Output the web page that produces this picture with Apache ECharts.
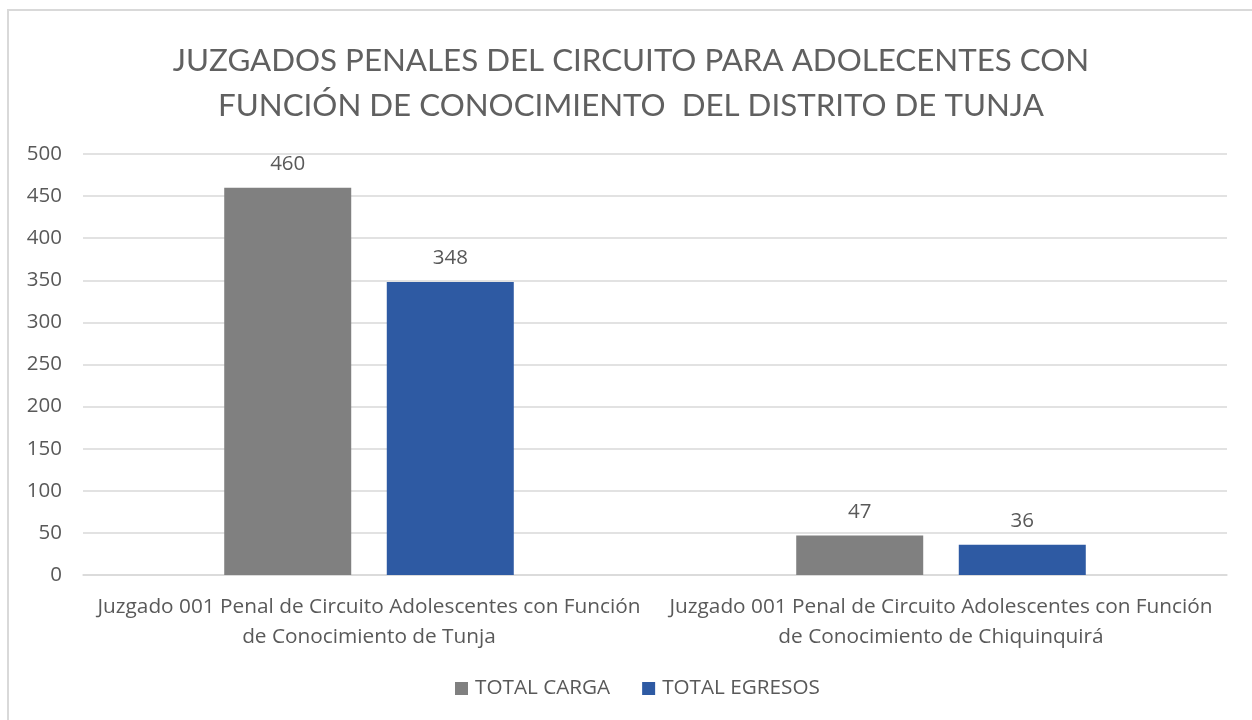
<!DOCTYPE html>
<html>
<head>
<meta charset="utf-8">
<script src="https://cdn.jsdelivr.net/npm/echarts@6/dist/echarts.min.js"></script>
<style>
  html, body { margin: 0; padding: 0; background: #fff; }
  #chart { width: 1252px; height: 720px; }
</style>
</head>
<body>
<div id="chart"></div>
<script>
const categories = [
  "Juzgado 001 Penal de Circuito Adolescentes con Función\nde Conocimiento de Tunja",
  "Juzgado 001 Penal de Circuito Adolescentes con Función\nde Conocimiento de Chiquinquirá"
];
const totalCarga = [460, 47];
const totalEgresos = [348, 36];

const font = "'Open Sans', Lato, sans-serif";
const titleFont = "Lato, 'Open Sans', sans-serif";
const textColor = "#595959";

const chart = echarts.init(document.getElementById("chart"));
chart.setOption({
  animation: false,
  textStyle: { fontFamily: font },
  title: {
    text: "JUZGADOS PENALES DEL CIRCUITO PARA ADOLECENTES CON\nFUNCIÓN DE CONOCIMIENTO  DEL DISTRITO DE TUNJA",
    left: 626,
    textAlign: "center",
    top: 33,
    textStyle: {
      fontFamily: titleFont,
      fontWeight: "normal",
      fontSize: 31.3,
      lineHeight: 45,
      color: "#606060",
    },
  },
  graphic: [
    {
      type: "rect",
      shape: { x: 8, y: 10, width: 1260, height: 730 },
      style: { fill: "none", stroke: "#d9d9d9", lineWidth: 2 },
      silent: true,
    },
  ],
  grid: {
    left: 83,
    right: 25,
    top: 154,
    bottom: 145,
  },
  legend: {
    bottom: 21,
    left: 455,
    padding: 0,
    itemWidth: 13,
    itemHeight: 13,
    itemGap: 32,
    icon: "rect",
    textStyle: {
      fontSize: 20.7,
      color: textColor,
      fontFamily: font,
      padding: [0, 0, 0, 2],
    },
    data: ["TOTAL CARGA", "TOTAL EGRESOS"],
  },
  xAxis: {
    type: "category",
    data: categories,
    axisTick: { show: false },
    axisLine: { lineStyle: { color: "#d9d9d9", width: 1.5 } },
    axisLabel: {
      color: textColor,
      fontSize: 20.8,
      lineHeight: 30,
      margin: 17,
      interval: 0,
    },
  },
  yAxis: {
    type: "value",
    min: 0,
    max: 500,
    interval: 50,
    axisLine: { show: false },
    axisTick: { show: false },
    axisLabel: { color: textColor, fontSize: 20.5, margin: 21 },
    splitLine: { lineStyle: { color: "#d9d9d9", width: 1.5 } },
  },
  series: [
    {
      name: "TOTAL CARGA",
      type: "bar",
      data: totalCarga,
      barWidth: 127,
      barGap: "28%",
      itemStyle: { color: "#808080" },
      label: {
        show: true,
        position: "top",
        distance: 13,
        fontSize: 20.5,
        color: textColor,
      },
    },
    {
      name: "TOTAL EGRESOS",
      type: "bar",
      data: totalEgresos,
      barWidth: 127,
      itemStyle: { color: "#2e5aa3" },
      label: {
        show: true,
        position: "top",
        distance: 13,
        fontSize: 20.5,
        color: textColor,
      },
    },
  ],
});
</script>
</body>
</html>
